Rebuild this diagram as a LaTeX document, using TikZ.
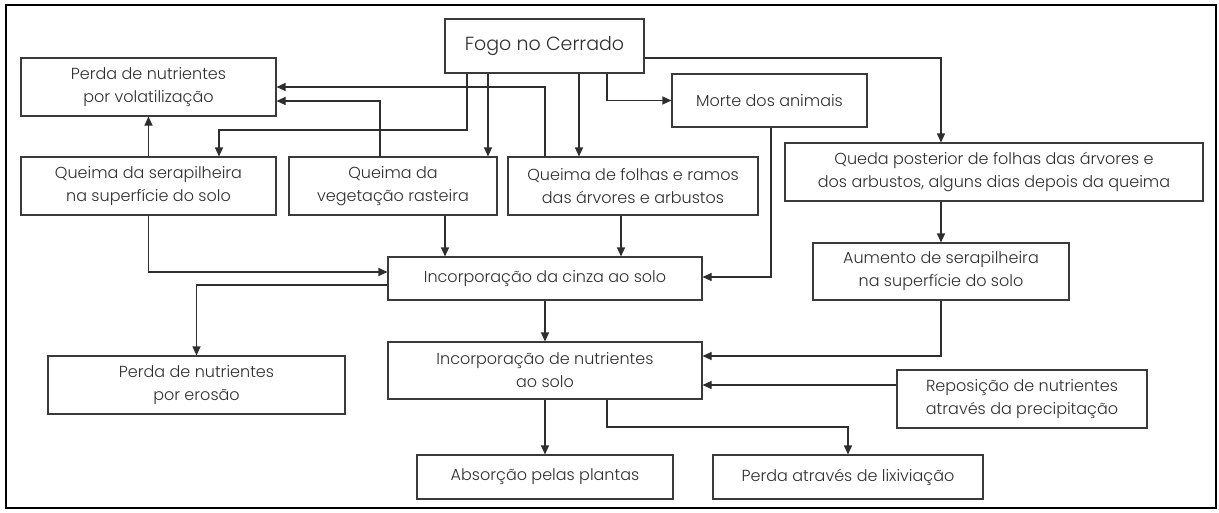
\documentclass[tikz,border=0pt]{standalone}
\usepackage{fontspec}
\setmainfont{Poppins Light}
\usetikzlibrary{arrows.meta}
\definecolor{ink}{HTML}{2E2E2E}
\definecolor{edge}{HTML}{3A3A3A}
\begin{document}
\begin{tikzpicture}[x=1pt,y=-1pt,
  box/.style={draw=edge,line width=1.1pt,align=center,inner sep=0pt,text=ink,
    font=\fontsize{16}{23}\selectfont},
  arr/.style={draw=ink,line width=1.1pt,-{Triangle[length=9pt,width=8pt]}}]
\useasboundingbox (0,0) rectangle (1219,512);
\draw[line width=2pt,black] (6,5) rectangle (1216,508);
% nodes
\node[box,minimum width=199pt,minimum height=54pt,font=\fontsize{19}{24}\selectfont] (fogo) at (544.5,46) {Fogo no Cerrado};
\node[box,minimum width=255pt,minimum height=58pt] (vol) at (148.5,87) {Perda de nutrientes\\por volatilização};
\node[box,minimum width=195pt,minimum height=53pt] (morte) at (769.5,100.5) {Morte dos animais};
\node[box,minimum width=255pt,minimum height=58pt] (serap) at (148.5,186) {Queima da serapilheira\\na superfície do solo};
\node[box,minimum width=208pt,minimum height=58pt] (veg) at (393,186) {Queima da\\vegetação rasteira};
\node[box,minimum width=250pt,minimum height=58pt] (folhas) at (633,186) {Queima de folhas e ramos\\das árvores e arbustos};
\node[box,minimum width=418pt,minimum height=58pt] (queda) at (994,172) {Queda posterior de folhas das árvores e\\dos arbustos, alguns dias depois da queima};
\node[box,minimum width=256pt,minimum height=57pt] (aumento) at (941,271.5) {Aumento de serapilheira\\na superfície do solo};
\node[box,minimum width=314pt,minimum height=43pt] (cinza) at (545,278.5) {Incorporação da cinza ao solo};
\node[box,minimum width=297pt,minimum height=58pt] (erosao) at (196.5,385) {Perda de nutrientes\\por erosão};
\node[box,minimum width=314pt,minimum height=57pt] (nut) at (545,370.5) {Incorporação de nutrientes\\ao solo};
\node[box,minimum width=250pt,minimum height=58pt] (repos) at (1022,399) {Reposição de nutrientes\\através da precipitação};
\node[box,minimum width=256pt,minimum height=44pt] (absor) at (545,477) {Absorção pelas plantas};
\node[box,minimum width=270pt,minimum height=44pt] (lixi) at (848,477) {Perda através de lixiviação};
% bend points
\coordinate (b1) at (219,130);
\coordinate (b2) at (607,427);
% connectors
\draw[arr] (fogo.south -| 467,0) |- (b1) -- (serap.north -| b1);
\draw[arr] (fogo.south -| 488,0) -- (veg.north -| 488,0);
\draw[arr] (fogo.south -| 579,0) -- (folhas.north -| 579,0);
\draw[arr] (fogo.south -| 607,0) |- (morte.west);
\draw[arr] (fogo.east |- 0,58) -| (queda.north -| 941,0);
\draw[arr] (folhas.north -| 545,0) |- (vol.east |- 0,87);
\draw[arr] (veg.north -| 380,0) |- (vol.east |- 0,101);
\draw[arr] (serap.north) -- (vol.south);
\draw[arr] (serap.south) |- (cinza.west |- 0,272);
\draw[arr] (veg.south -| 445,0) -- (cinza.north -| 445,0);
\draw[arr] (folhas.south -| 621,0) -- (cinza.north -| 621,0);
\draw[arr] (morte.south -| 771,0) |- (cinza.east |- 0,277);
\draw[arr] (cinza.west |- 0,285) -| (erosao.north);
\draw[arr] (cinza.south) -- (nut.north);
\draw[arr] (queda.south -| aumento.north) -- (aumento.north);
\draw[arr] (aumento.south) |- (nut.east |- 0,356);
\draw[arr] (repos.west |- 0,385) -- (nut.east |- 0,385);
\draw[arr] (nut.south) -- (absor.north);
\draw[arr] (nut.south -| b2) -- (b2) -| (lixi.north);
\end{tikzpicture}
\end{document}
